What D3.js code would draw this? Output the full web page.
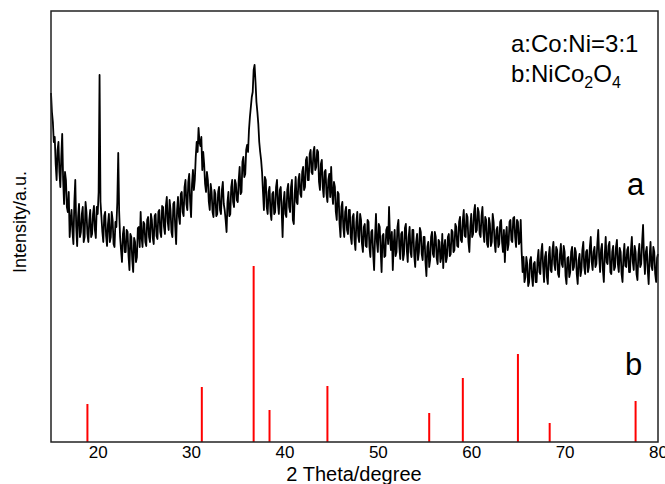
<!DOCTYPE html>
<html>
<head>
<meta charset="utf-8">
<script src="https://cdn.jsdelivr.net/npm/d3@7"></script>
<style>
body { margin: 0; background: #fff; }
text { font-family: Arial, "Liberation Sans", sans-serif; }
</style>
</head>
<body>
<svg id="chart" width="665" height="484"></svg>
<script>
// 2 theta start / step of the measured pattern (sample a)
var thetaStart = 15, thetaStep = 0.1;
// intensity of sample a (Co:Ni=3:1), one value per 0.1 degree, 15..80 (one row = 2 degrees)
var intensityA = [
	349,330, 320,300, 305,278, 262,292, 300,270, 255,285, 308,262, 238,270, 262,235, 230,250,
	205,222, 232,210, 198,240, 262,215, 196,225, 238,205, 210,228, 235,200, 205,240, 230,208,
	200,222, 232,205, 208,228, 236,212, 204,235, 228,250, 367,240, 225,210, 200,226, 230,206,
	196,218, 228,200, 205,230, 222,198, 195,220, 215,240, 289,230, 205,192, 180,208, 215,190,
	190,212, 210,186, 172,208, 205,182, 170,204, 200,180, 185,214, 215,195, 230,205, 195,220,
	218,200, 196,222, 225,205, 200,228, 222,204, 198,226, 228,206, 203,230, 232,210, 205,236,
	235,215, 208,236, 245,220, 212,242, 232,210, 205,238, 240,215, 198,232, 245,225, 218,248,
	250,230, 226,255, 262,238, 232,260, 268,240, 225,258, 272,252, 262,285, 300,290, 314,300,
	296,305, 272,290, 278,258, 250,270, 262,240, 232,258, 250,230, 225,252, 248,226, 228,250,
	255,232, 228,252, 260,238, 232,222, 210,240, 250,226, 228,255, 262,240, 235,262, 258,242,
	240,262, 275,248, 250,280, 285,265, 268,292, 297,290, 312,325, 335,345, 350,372, 377,360,
	340,330, 318,300, 290,282, 270,250, 232,265, 262,235, 228,250, 255,230, 222,248, 250,228,
	230,255, 262,238, 228,252, 255,232, 205,240, 250,228, 225,252, 258,235, 230,255, 262,222,
	218,248, 265,240, 238,262, 268,248, 245,270, 275,252, 255,282, 285,262, 262,288, 292,270,
	268,290, 295,272, 275,292, 290,260, 252,278, 282,255, 245,270, 272,248, 240,262, 268,245,
	275,250, 238,260, 255,230, 222,250, 248,218, 205,235, 240,215, 205,230, 235,212, 208,232,
	232,205, 198,225, 228,202, 192,220, 230,206, 200,228, 222,198, 190,215, 218,196, 195,222,
	220,195, 185,210, 212,188, 172,205, 228,200, 190,218, 215,192, 170,206, 208,185, 186,212,
	215,198, 235,205, 192,210, 172,198, 212,186, 190,215, 222,195, 183,208, 210,182, 188,214,
	218,192, 180,205, 215,190, 185,212, 212,186, 175,200, 208,182, 190,214, 210,188, 182,205,
	205,180, 166,195, 200,175, 182,205, 210,188, 185,210, 205,184, 178,202, 200,180, 185,208,
	174,195, 202,180, 185,205, 208,186, 188,212, 210,190, 192,218, 215,196, 195,220, 225,202,
	200,222, 232,206, 205,228, 225,200, 190,215, 228,205, 208,230, 237,210, 212,234, 230,208,
	205,226, 235,210, 200,225, 222,198, 195,224, 218,196, 200,228, 220,200, 190,212, 215,195,
	198,220, 222,200, 190,212, 180,205, 215,192, 198,220, 222,202, 200,224, 225,205, 195,222,
	220,198, 200,222, 190,170, 185,160, 165,185, 178,156, 160,182, 185,165, 156,178, 180,160,
	160,182, 192,170, 168,190, 198,175, 160,185, 190,165, 158,186, 195,172, 170,192, 200,178,
	172,195, 192,168, 165,188, 198,178, 175,196, 190,166, 158,184, 185,165, 170,190, 195,172,
	175,194, 190,168, 158,182, 188,166, 172,192, 200,175, 168,190, 192,170, 175,195, 205,180,
	172,190, 195,175, 178,198, 212,185, 170,192, 198,172, 160,188, 205,180, 178,196, 200,170,
	168,190, 196,172, 175,195, 202,178, 170,194, 190,168, 160,186, 198,176, 175,192, 195,170,
	170,192, 205,180, 172,196, 190,168, 162,188, 198,175, 178,200, 217,185, 168,190, 195,172,
	158,185, 200,176, 172,195, 190,168, 160,184, 188
];
// NiCo2O4 reference lines (sample b)
var peaksB = [18.9, 31.15, 36.7, 38.4, 44.6, 55.5, 59.1, 65.0, 68.4, 77.6];
var heightsB = [38, 55, 176, 32, 56, 29, 64, 88, 19, 41];
var xTicks = [20, 30, 40, 50, 60, 70, 80];

function drawChart() {
	var svg = d3.select("#chart");
	var mLeft = 51, mRight = 658, mTop = 11, mBottom = 442;

	var x = d3.scaleLinear().domain([15, 80]).range([mLeft, mRight]);
	var y = d3.scaleLinear().domain([0, 431]).range([mBottom, mTop]);

	var pointsA = intensityA.map(function(v, i) {
		return [thetaStart + i * thetaStep, v];
	});

	// red sticks
	svg.selectAll(".stick")
		.data(peaksB)
		.enter()
		.append("line")
		.attr("class", "stick")
		.attr("x1", function(d) { return x(d); })
		.attr("x2", function(d) { return x(d); })
		.attr("y1", y(0))
		.attr("y2", function(d, i) { return y(heightsB[i]); })
		.attr("stroke", "#ff0000")
		.attr("stroke-width", 2);

	var line = d3.line()
		.x(function(d) { return x(d[0]); })
		.y(function(d) { return y(d[1]); });

	svg.append("path")
		.datum(pointsA)
		.attr("d", line)
		.attr("fill", "none")
		.attr("stroke", "#000")
		.attr("stroke-width", 1.8)
		.attr("stroke-linejoin", "round");

	// frame
	svg.append("rect")
		.attr("x", mLeft)
		.attr("y", mTop)
		.attr("width", mRight - mLeft)
		.attr("height", mBottom - mTop)
		.attr("fill", "none")
		.attr("stroke", "#222")
		.attr("stroke-width", 1.5);

	var xAxis = svg.append("g")
		.attr("transform", "translate(0," + mBottom + ")")
		.call(d3.axisBottom(x).tickValues(xTicks).tickSize(0).tickPadding(4));
	xAxis.select(".domain").remove();
	xAxis.selectAll("text")
		.style("font-size", "17px")
		.style("font-family", "Arial, 'Liberation Sans', sans-serif")
		.attr("fill", "#000");

	svg.append("text")
		.attr("x", 354)
		.attr("y", 481)
		.attr("text-anchor", "middle")
		.style("font-size", "20px")
		.text("2 Theta/degree");

	svg.append("text")
		.attr("transform", "translate(26,222) rotate(-90)")
		.attr("text-anchor", "middle")
		.style("font-size", "18px")
		.text("Intensity/a.u.");

	// curve labels
	svg.append("text").attr("x", 627).attr("y", 195).style("font-size", "31px").text("a");
	svg.append("text").attr("x", 625).attr("y", 375).style("font-size", "31px").text("b");

	// legend text
	svg.append("text").attr("x", 511).attr("y", 52).style("font-size", "24px").text("a:Co:Ni=3:1");
	var t2 = svg.append("text").attr("x", 511).attr("y", 82).style("font-size", "24px");
	t2.append("tspan").text("b:NiCo");
	t2.append("tspan").attr("dy", 6).style("font-size", "16px").text("2");
	t2.append("tspan").attr("dy", -6).text("O");
	t2.append("tspan").attr("dy", 6).style("font-size", "16px").text("4");
}
drawChart();
</script>
</body>
</html>
